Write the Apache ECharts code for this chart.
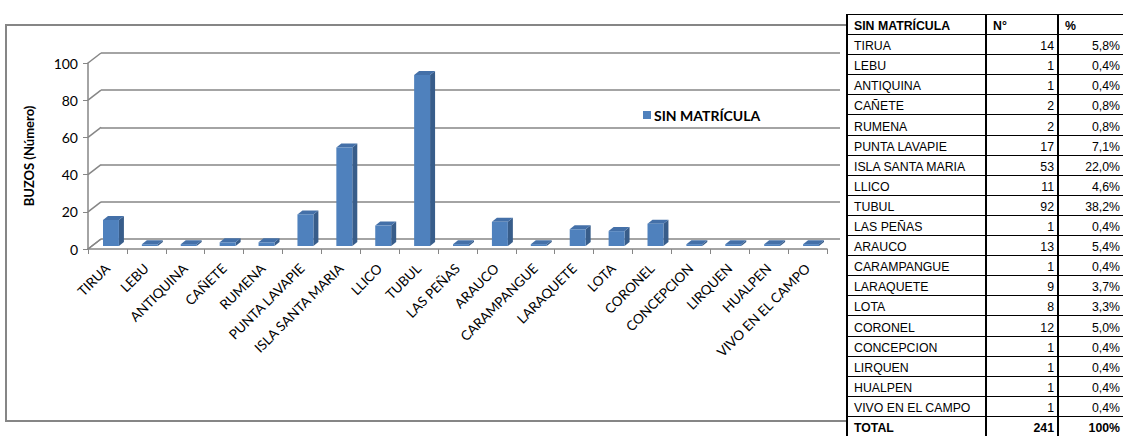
<!DOCTYPE html>
<html><head><meta charset="utf-8">
<script src="https://cdn.jsdelivr.net/npm/echarts@6/dist/echarts.min.js"></script>
<style>
html,body{margin:0;padding:0;background:#fff;}
#wrap{position:relative;width:1123px;height:436px;overflow:hidden;background:#fff;}
#chart{position:absolute;left:0;top:0;width:1123px;height:436px;}
#tbl{position:absolute;left:846px;top:14px;border-collapse:collapse;table-layout:fixed;width:277px;font-family:"Liberation Sans",Arial,sans-serif;font-size:12.3px;background:#fff;color:#000;}
#tbl tr{height:20.1px;}
#tbl td{padding:0 4px 1px 6px;border-left:2px solid #000;border-right:2px solid #000;border-bottom:1px solid #000;border-top:1px solid #000;line-height:14px;vertical-align:bottom;white-space:nowrap;overflow:hidden;}
#tbl td.n{text-align:right;padding-right:3px;}
#tbl tr.h td,#tbl tr.t td{font-weight:bold;}
</style></head>
<body><div id="wrap"><div id="chart"></div><table id="tbl"><colgroup><col style="width:139px"><col style="width:72px"><col style="width:66px"></colgroup><tbody id="tb"></tbody></table></div>
<script>
const seriesName = 'SIN MATRÍCULA';
const categories = ['TIRUA','LEBU','ANTIQUINA','CAÑETE','RUMENA','PUNTA LAVAPIE','ISLA SANTA MARIA','LLICO','TUBUL','LAS PEÑAS','ARAUCO','CARAMPANGUE','LARAQUETE','LOTA','CORONEL','CONCEPCION','LIRQUEN','HUALPEN','VIVO EN EL CAMPO'];
const values = [14,1,1,2,2,17,53,11,92,1,13,1,9,8,12,1,1,1,1];
const percents = ['5,8%','0,4%','0,4%','0,8%','0,8%','7,1%','22,0%','4,6%','38,2%','0,4%','5,4%','0,4%','3,7%','3,3%','5,0%','0,4%','0,4%','0,4%','0,4%'];
const headerLabels = ['SIN MATRÍCULA','N°','%'];
const totalLabels = ['TOTAL','241','100%'];
const yTicks = [0,20,40,60,80,100];
const yAxisName = 'BUZOS (Número)';

// table
const tb = document.getElementById('tb');
function addRow(cells, cls){
  const tr = document.createElement('tr');
  if(cls) tr.className = cls;
  cells.forEach((c,k)=>{
    const td = document.createElement('td');
    td.textContent = c;
    if(k>0 && cls!=='h') td.className='n';
    tr.appendChild(td);
  });
  tb.appendChild(tr);
}
addRow(headerLabels,'h');
categories.forEach((c,i)=>addRow([c, String(values[i]), percents[i]]));
addRow(totalLabels,'t');

// chart
const DX = 13, DY = 10;
const chart = echarts.init(document.getElementById('chart'), null, {renderer:'svg'});
const font = 'Lato, "Open Sans", sans-serif';
chart.setOption({
  animation:false,
  graphic:[{type:'rect', z:-10, shape:{x:6,y:25,width:950,height:396}, style:{fill:'none',stroke:'#868686',lineWidth:2}}],
  legend:{data:[{name:seriesName, icon:'rect'}], left:638, top:103, itemWidth:8, itemHeight:8, selectedMode:false,
    textStyle:{fontFamily:font, fontWeight:'bold', fontSize:14, color:'#000', padding:[0,0,0,-2]}},
  grid:[
    {left:88, top:63, width:739, height:186},
    {left:88+DX, top:63-DY, width:739, height:186}
  ],
  xAxis:[
    {gridIndex:0, type:'category', data:categories,
     axisLine:{lineStyle:{color:'#868686',width:1.5}},
     axisTick:{show:true,length:5,lineStyle:{color:'#868686',width:1}},
     axisLabel:{rotate:45, interval:0, fontSize:13.5, color:'#000', fontFamily:font, margin:17}},
    {gridIndex:1, type:'category', data:categories, show:false}
  ],
  yAxis:[
    {gridIndex:0, type:'value', min:0, max:100, interval:20,
     axisLine:{show:true, lineStyle:{color:'#868686',width:1.5}},
     axisTick:{show:true,length:5,lineStyle:{color:'#868686',width:1}},
     axisLabel:{color:'#000', fontSize:14, margin:10, fontFamily:font},
     splitLine:{show:false},
     name:yAxisName, nameLocation:'middle', nameGap:53, nameRotate:90,
     nameTextStyle:{fontWeight:'bold', fontSize:13, fontFamily:font, color:'#000'}},
    {gridIndex:1, type:'value', min:0, max:100, interval:20,
     axisLine:{show:false}, axisTick:{show:false}, axisLabel:{show:false},
     splitLine:{show:true, lineStyle:{color:'#868686', width:1.5}}}
  ],
  series:[
    {type:'custom', name:'walls', xAxisIndex:0, yAxisIndex:0, silent:true, z:1, clip:false,
     data: yTicks.map(v=>[0,v]).concat([[categories.length-1, 0, 1]]),
     renderItem:function(params, api){
       const cs = params.coordSys;
       const v = api.value(1);
       const y = api.coord([0, v])[1];
       const x = api.value(2) === 1 ? cs.x + cs.width : cs.x;
       return {type:'line', shape:{x1:x, y1:y, x2:x+DX, y2:y-DY}, style:{stroke:'#868686', lineWidth:1.5}};
     }},
    {type:'custom', name:seriesName, xAxisIndex:0, yAxisIndex:0, z:5, clip:false,
     itemStyle:{color:'#4F81BD'},
     data: values.map((v,i)=>[i,v]),
     renderItem:function(params, api){
       const i = api.value(0), v = api.value(1);
       const base = api.coord([i, 0]);
       const top = api.coord([i, v]);
       const band = api.size([1,0])[0];
       const w = band*0.41;
       const ox = 3.5, oy = 3, dx = 5, dy = 4;
       const l = base[0] + ox - w/2, r = l + w;
       const yb = base[1] - oy, yt = top[1] - oy;
       return {type:'group', children:[
         {type:'polygon', shape:{points:[[r,yt],[r+dx,yt-dy],[r+dx,yb-dy],[r,yb]]}, style:{fill:'#385D8A'}},
         {type:'polygon', shape:{points:[[l,yt],[l+dx,yt-dy],[r+dx,yt-dy],[r,yt]]}, style:{fill:'#4470A8'}},
         {type:'rect', shape:{x:l,y:yt,width:w,height:yb-yt}, style:{fill:'#4F81BD'}}
       ]};
     }}
  ]
});
</script></body></html>
